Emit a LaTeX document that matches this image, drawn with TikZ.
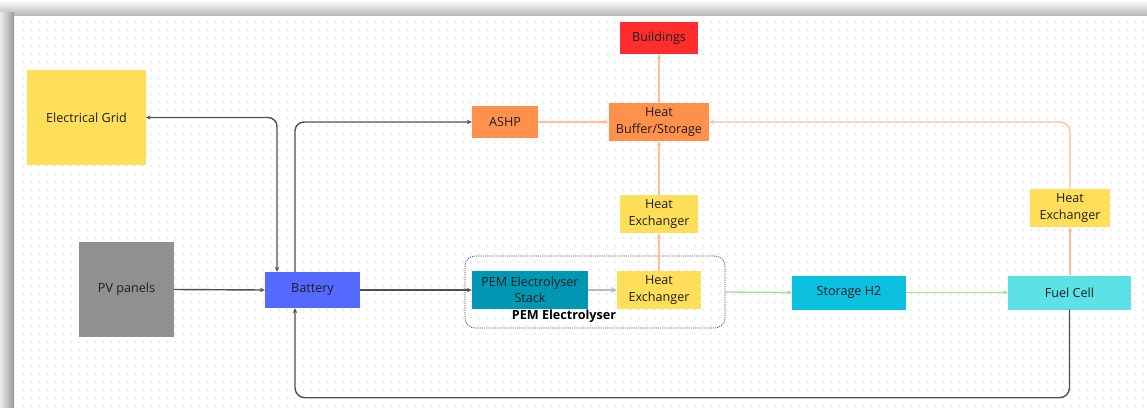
\documentclass[tikz,border=0pt]{standalone}
\usepackage{fontspec}
\setmainfont{Open Sans}
\usetikzlibrary{arrows.meta}
\definecolor{gridy}{HTML}{FFDE59}
\definecolor{pvg}{HTML}{909090}
\definecolor{batb}{HTML}{5469FF}
\definecolor{orng}{HTML}{FF914D}
\definecolor{redb}{HTML}{FF2D2D}
\definecolor{stk}{HTML}{0097B2}
\definecolor{hcy}{HTML}{0CC0DF}
\definecolor{fcy}{HTML}{5CE1E6}
\definecolor{txt}{HTML}{1E1E1E}
\definecolor{dk}{HTML}{505050}
\definecolor{oln}{HTML}{FFBC96}
\definecolor{gln}{HTML}{9BE38C}
\definecolor{sln}{HTML}{AEBCC8}
\definecolor{dotc}{HTML}{DEDEDE}
\begin{document}
\begin{tikzpicture}[x=1pt,y=-1pt,
  box/.style={rectangle, inner sep=0pt, align=center, text=txt,
    font=\fontsize{12.6}{16.5}\selectfont},
  blk/.style={draw=dk, line width=1.4pt, -{Stealth[length=5pt,width=4.5pt]}},
  orl/.style={draw=oln, line width=1.3pt, -{Stealth[length=5pt,width=4.5pt]}},
  grl/.style={draw=gln, line width=1.3pt, -{Stealth[length=5pt,width=4.5pt]}},
  sll/.style={draw=sln, line width=2pt, -{Stealth[length=6pt,width=6pt]}}]
\useasboundingbox (0,0) rectangle (1147,407);
\fill[white] (0,0) rectangle (1147,407);
% shadows
\shade[top color=white, bottom color=gray!55] (0,0) rectangle (1147,15);
\shade[left color=white!85!gray, right color=gray!80] (0,12) rectangle (14,407);
% dotted background
\foreach \yy in {22,30,...,406}
  \draw[dotc, line width=1.7pt, line cap=round, dash pattern=on 0pt off 8pt] (23,\yy) -- (1147,\yy);
% container
\node[draw=dk, line width=0.7pt, dash pattern=on 1.2pt off 1pt, rounded corners=10pt,
  minimum width=260pt, minimum height=72pt, inner sep=0pt] (pem) at (595,292) {};
% nodes
\node[box, fill=gridy, minimum width=119pt, minimum height=95pt] (grid) at (86.5,117.5) {Electrical Grid};
\node[box, fill=pvg, minimum width=95pt, minimum height=95pt] (pv) at (126.5,289.5) {PV panels};
\node[box, fill=batb, minimum width=95pt, minimum height=36pt] (bat) at (312.5,290) {Battery};
\node[box, fill=orng, minimum width=66pt, minimum height=32pt] (ashp) at (505,122) {ASHP};
\node[box, fill=orng, minimum width=100pt, minimum height=38pt] (buf) at (659,122) {Heat\\Buffer/Storage};
\node[box, fill=redb, minimum width=78pt, minimum height=32pt] (bld) at (659,38) {Buildings};
\node[box, fill=gridy, minimum width=78pt, minimum height=38pt] (hxa) at (659,214) {Heat\\Exchanger};
\node[box, fill=stk, minimum width=116pt, minimum height=38pt] (stack) at (530,290) {PEM Electrolyser\\Stack};
\node[box, fill=gridy, minimum width=84pt, minimum height=38pt] (hxb) at (659,290) {Heat\\Exchanger};
\node[box, font=\fontsize{12.6}{14}\selectfont\bfseries, text=black] (pemlab) at (564,316) {PEM Electrolyser};
\node[box, fill=hcy, minimum width=114pt, minimum height=34pt] (h2) at (849,292.5) {Storage H2};
\node[box, fill=fcy, minimum width=123pt, minimum height=34pt] (fc) at (1069.5,292.5) {Fuel Cell};
\node[box, fill=gridy, minimum width=80pt, minimum height=38pt] (hxc) at (1070,208) {Heat\\Exchanger};
% black connectors
\draw[blk, {Stealth[length=4pt,width=4pt]}-{Stealth[length=5pt,width=4.5pt]}, rounded corners=9pt]
  (grid.east) -| ([xshift=-35.5pt]bat.north);
\draw[blk, rounded corners=9pt] ([xshift=-17.5pt]bat.north) |- (ashp.west);
\draw[blk] (pv.east) -- (bat.west);
\draw[blk] (bat.east) -- (stack.west);
\draw[blk, rounded corners=10pt] (fc.south) -- ++(0,88) -| ([xshift=-17.5pt]bat.south);
% internal
\draw[sll] (stack.east) -- (hxb.west);
% orange
\draw[orl] (hxb.north) -- (hxa.south);
\draw[orl] (hxa.north) -- (buf.south);
\draw[orl] (buf.north) -- (bld.south);
\draw[orl] (ashp.east) -- (buf.west);
\draw[orl, rounded corners=10pt] (hxc.north) |- (buf.east);
\draw[orl] (fc.north -| hxc.south) -- (hxc.south);
% green
\draw[grl] (pem.east) -- (h2.west);
\draw[grl] (h2.east) -- (fc.west);
\end{tikzpicture}
\end{document}
